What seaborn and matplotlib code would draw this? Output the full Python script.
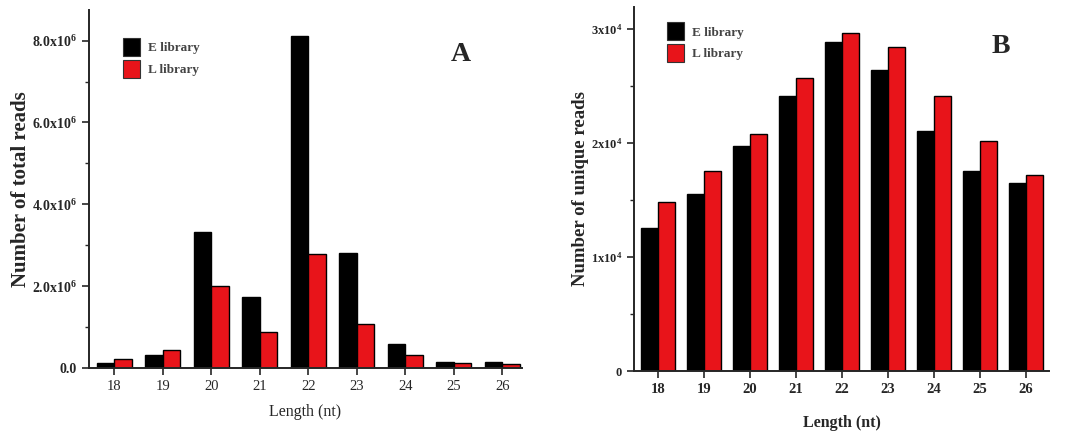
import numpy as np
import pandas as pd
import matplotlib
matplotlib.use("Agg")
import matplotlib.pyplot as plt
import matplotlib.ticker as mticker
from matplotlib.patches import Patch
import seaborn as sns

lengths = [18, 19, 20, 21, 22, 23, 24, 25, 26]
libraries = ["E library", "L library"]

# total reads (panel A)
total_e = [0.12e6, 0.33e6, 3.32e6, 1.73e6, 8.12e6, 2.82e6, 0.59e6, 0.16e6, 0.14e6]
total_l = [0.23e6, 0.45e6, 2.01e6, 0.89e6, 2.79e6, 1.08e6, 0.33e6, 0.13e6, 0.09e6]

# unique reads (panel B)
unique_e = [1.252e4, 1.553e4, 1.971e4, 2.412e4, 2.889e4, 2.640e4, 2.102e4, 1.754e4, 1.649e4]
unique_l = [1.480e4, 1.752e4, 2.079e4, 2.573e4, 2.962e4, 2.839e4, 2.412e4, 2.018e4, 1.719e4]

colors = ["#000000", "#e8141a"]

sns.set_style("ticks")
plt.rcParams["font.family"] = ["Liberation Serif", "DejaVu Serif"]
plt.rcParams["mathtext.fontset"] = "custom"
plt.rcParams["mathtext.rm"] = "Liberation Serif"
plt.rcParams["mathtext.bf"] = "Liberation Serif:bold"
plt.rcParams["mathtext.default"] = "bf"


def make_df(e_vals, l_vals):
    return pd.DataFrame({
        "length": [str(x) for x in lengths] * 2,
        "reads": e_vals + l_vals,
        "library": [libraries[0]] * len(lengths) + [libraries[1]] * len(lengths),
    })


def draw_panel(ax, df, ylim, major, minor, fmt, ylabel, letter, xlim, bold_x,
               leg_pos, letter_pos, ylab_size, xlab_size, ytick_size, ypad, xpad):
    sns.barplot(data=df, x="length", y="reads", hue="library", palette=colors,
                edgecolor="black", linewidth=1.0, width=0.72, gap=0, ax=ax,
                legend=False, errorbar=None, saturation=1)
    ax.set_ylim(*ylim)
    ax.set_xlim(*xlim)
    ax.yaxis.set_major_locator(mticker.MultipleLocator(major))
    ax.yaxis.set_minor_locator(mticker.MultipleLocator(minor))
    ax.yaxis.set_major_formatter(mticker.FuncFormatter(fmt))
    sns.despine(ax=ax)
    for s in ["left", "bottom"]:
        ax.spines[s].set_linewidth(1.4)
    ax.tick_params(axis="both", which="major", length=5, width=1.2, labelsize=10.5)
    ax.tick_params(axis="y", which="major", labelsize=ytick_size)
    ax.tick_params(axis="y", which="minor", length=3, width=1.0)
    for lab in ax.get_yticklabels():
        lab.set_fontweight("bold")
    for lab in ax.get_xticklabels():
        lab.set_fontweight("bold" if bold_x else "normal")
    ax.set_ylabel(ylabel, fontsize=ylab_size, fontweight="bold", labelpad=ypad)
    ax.set_xlabel("Length (nt)", fontsize=xlab_size, fontweight="bold" if bold_x else "normal", labelpad=xpad)
    handles = [Patch(facecolor=c, edgecolor="#333333", linewidth=0.8) for c in colors]
    leg = ax.legend(handles, libraries, loc="upper left", bbox_to_anchor=leg_pos, frameon=False,
                    handlelength=1.3, handleheight=1.7, labelspacing=0.3, handletextpad=0.6,
                    prop={"weight": "bold", "size": 9.5})
    for t in leg.get_texts():
        t.set_color("#444444")
    ax.text(letter_pos[0], letter_pos[1], letter, transform=ax.transAxes, fontsize=20,
            fontweight="bold", ha="center", va="center")


fig = plt.figure(figsize=(10.79, 4.32), dpi=100)
ax_a = fig.add_axes([0.0825, 0.148, 0.401, 0.829])
ax_b = fig.add_axes([0.5876, 0.141, 0.3846, 0.843])

fmt_a = lambda v, p: "0.0" if v == 0 else r"%.1fx10$^{6}$" % (v / 1e6)
fmt_b = lambda v, p: "0" if v == 0 else r"%dx10$^{4}$" % round(v / 1e4)

draw_panel(ax_a, make_df(total_e, total_l), (0, 8.75e6), 2e6, 1e6, fmt_a,
           "Number of total reads", "A", (-0.52, 8.4), False, (0.05, 0.955), (0.86, 0.875),
           15, 11.5, 10, 1, 8)
draw_panel(ax_b, make_df(unique_e, unique_l), (0, 3.195e4), 1e4, 0.5e4, fmt_b,
           "Number of unique reads", "B", (-0.52, 8.5), True, (0.05, 0.99), (0.885, 0.89),
           13.5, 11.5, 9, 1.5, 14)

fig.savefig("out.png", dpi=100)
